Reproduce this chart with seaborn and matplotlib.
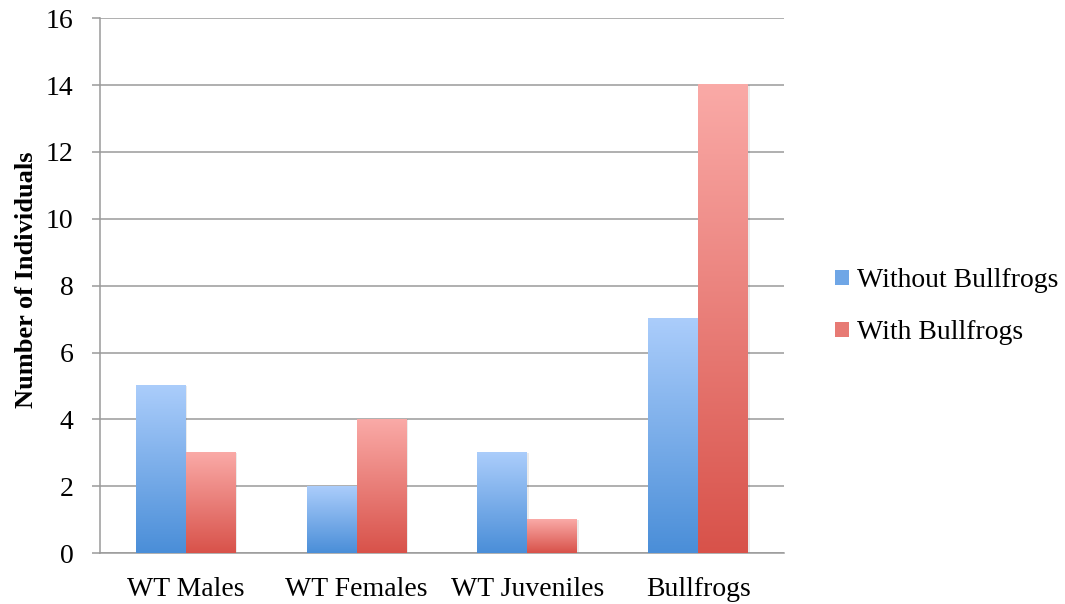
import numpy as np
import pandas as pd
import matplotlib
matplotlib.use("Agg")
import matplotlib.pyplot as plt
from matplotlib.colors import LinearSegmentedColormap
from matplotlib.patches import Rectangle
import seaborn as sns

categories = ["WT Males", "WT Females", "WT Juveniles", "Bullfrogs"]
series = ["Without Bullfrogs", "With Bullfrogs"]
without_bullfrogs = [5, 2, 3, 7]
with_bullfrogs = [3, 4, 1, 14]
y_ticks = [0, 2, 4, 6, 8, 10, 12, 14, 16]

# gradient ends per series: (top, bottom)
shades = {
    "Without Bullfrogs": ("#abcdfb", "#4a8ed8"),
    "With Bullfrogs": ("#faaaa7", "#d8524a"),
}
mid = {"Without Bullfrogs": "#6fa6e6", "With Bullfrogs": "#e77a74"}

df = pd.DataFrame({
    "Group": categories * 2,
    "Series": [series[0]] * 4 + [series[1]] * 4,
    "Count": without_bullfrogs + with_bullfrogs,
})

sns.set_style("white", {"text.color": "black", "axes.labelcolor": "black",
                        "xtick.color": "black", "ytick.color": "black"})
plt.rcParams["font.family"] = ["Liberation Serif", "DejaVu Serif"]

fig = plt.figure(figsize=(10.65, 6.04), dpi=100)
ax = fig.add_axes([0.094, 0.084, 0.642, 0.886])

sns.barplot(data=df, x="Group", y="Count", hue="Series", order=categories,
            hue_order=series, palette=mid, width=0.585, gap=0, ax=ax,
            errorbar=None, legend=False, saturation=1)

# replace flat fills with vertical gradients
grad = np.linspace(1, 0, 256).reshape(-1, 1)
bar_patches = [p for p in ax.patches if isinstance(p, Rectangle)]
for i, p in enumerate(bar_patches):
    s = series[i // len(categories)]
    cmap = LinearSegmentedColormap.from_list(s, [shades[s][1], shades[s][0]])
    x0, y0 = p.get_x(), p.get_y()
    w, h = p.get_width(), p.get_height()
    # soft shadow on the right edge
    ax.add_patch(Rectangle((x0 + w, y0), 0.008, h, color="#000000",
                           alpha=0.08, lw=0, zorder=2))
    ax.imshow(grad, extent=[x0, x0 + w, y0, y0 + h], aspect="auto",
              cmap=cmap, vmin=0, vmax=1, zorder=3, interpolation="bilinear")
    p.set_visible(False)

ax.set_xlim(-0.5, len(categories) - 0.5)
ax.set_ylim(0, 16)
ax.set_yticks(y_ticks)
ax.set_yticklabels([str(t) for t in y_ticks], fontsize=20)
ax.yaxis.grid(True, color="#9a9a9a", linewidth=1.1, zorder=0)
ax.set_axisbelow(True)

ax.set_xticks(range(len(categories)))
ax.set_xticklabels(categories, fontsize=20)
ax.set_xticks(np.arange(-0.5, len(categories), 1), minor=True)
ax.tick_params(axis="x", which="major", length=0, pad=17, labelcolor="black")
ax.tick_params(axis="x", which="minor", length=7, width=1.1, color="#9a9a9a",
               direction="out")
ax.tick_params(axis="y", length=6, width=1.1, color="#9a9a9a",
               direction="out", pad=13, left=True, labelcolor="black")

for side in ["top", "right"]:
    ax.spines[side].set_visible(False)
for side in ["left", "bottom"]:
    ax.spines[side].set_color("#9a9a9a")
    ax.spines[side].set_linewidth(1.1)

ax.set_xlabel("")
ax.set_ylabel("Number of Individuals", fontsize=19, fontweight="bold",
              labelpad=6, color="black")
ax.yaxis.label.set_y(0.512)

handles = [Rectangle((0, 0), 1, 1, facecolor=mid[s], edgecolor="none")
           for s in series]
fig.legend(handles, series, loc="center left", bbox_to_anchor=(0.761, 0.492),
           frameon=False, fontsize=20, handlelength=0.48, handleheight=0.48,
           handletextpad=0.3, labelspacing=0.97, labelcolor="black")

fig.savefig("out.png", dpi=100, facecolor="white")
